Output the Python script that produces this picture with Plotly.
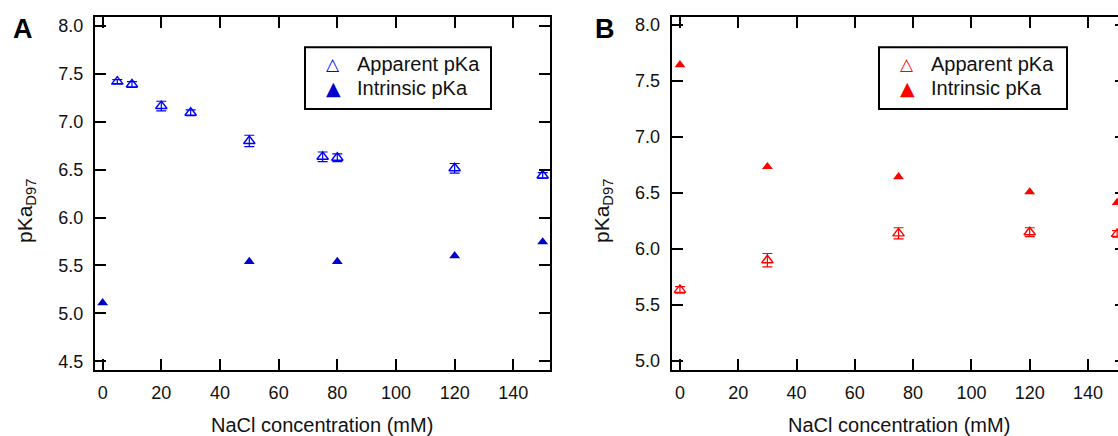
import plotly.graph_objects as go

# ---------------- data ----------------
A_conc_app = [5, 10, 20, 30, 50, 75, 80, 120, 150]
A_app = [7.42, 7.39, 7.165, 7.095, 6.80, 6.635, 6.625, 6.515, 6.44]
A_app_err = [0.02, 0.03, 0.05, 0.03, 0.06, 0.05, 0.04, 0.05, 0.03]
A_conc_int = [0, 50, 80, 120, 150]
A_int = [5.11, 5.54, 5.54, 5.60, 5.745]

B_conc = [0, 30, 75, 120, 150]
B_app = [5.635, 5.90, 6.14, 6.15, 6.135]
B_app_err = [0.03, 0.06, 0.05, 0.04, 0.03]
B_int = [7.645, 6.735, 6.645, 6.51, 6.415]

x_ticks = [0, 20, 40, 60, 80, 100, 120, 140]
legend_names = ["Apparent pKa", "Intrinsic pKa"]
x_title = "NaCl concentration (mM)"
y_title = "pKa<sub>D97</sub>"

# ---------------- style ----------------
W, H = 1118, 436
FONT = "Liberation Sans, Arial, sans-serif"
BLUE_O = "#0000ff"
BLUE_F = "#0000cc"
RED = "#ff0000"

fig = go.Figure()

def app_trace(x, y, err, color, xa, ya):
    return go.Scatter(
        x=x, y=y, mode="markers", name=legend_names[0], xaxis=xa, yaxis=ya, showlegend=False,
        marker=dict(symbol="triangle-up-open", size=10, color=color, line=dict(width=1.4, color=color)),
        error_y=dict(type="data", array=err, visible=True, color=color, thickness=1.2, width=5),
        cliponaxis=False,
    )

def int_trace(x, y, color, xa, ya):
    return go.Scatter(
        x=x, y=y, mode="markers", name=legend_names[1], xaxis=xa, yaxis=ya, showlegend=False,
        marker=dict(symbol="triangle-up", size=9.5, color=color, line=dict(width=0)),
        cliponaxis=False,
    )

fig.add_trace(app_trace(A_conc_app, A_app, A_app_err, BLUE_O, "x", "y"))
fig.add_trace(int_trace(A_conc_int, A_int, BLUE_F, "x", "y"))
fig.add_trace(app_trace(B_conc, B_app, B_app_err, RED, "x2", "y2"))
fig.add_trace(int_trace(B_conc, B_int, RED, "x2", "y2"))
# invisible trace so the right-hand tick axis of panel B is drawn
fig.add_trace(go.Scatter(x=[None], y=[None], xaxis="x2", yaxis="y3", showlegend=False,
                         hoverinfo="skip", mode="markers"))

def px_x(p):
    return p / W

def px_y(p):
    return 1 - p / H

axis_common = dict(
    showline=True, linewidth=2, linecolor="black",
    ticks="inside", ticklen=11, tickwidth=2, tickcolor="black",
    showgrid=False, zeroline=False,
    tickfont=dict(family=FONT, size=18, color="#111111"),
    automargin=False,
)

ydom = [px_y(370), px_y(16.7)]

fig.update_layout(
    width=W, height=H, autosize=False,
    margin=dict(l=0, r=0, t=0, b=0),
    paper_bgcolor="white", plot_bgcolor="white",
    font=dict(family=FONT, color="#111111"),
    showlegend=False,
    xaxis=dict(domain=[px_x(95), px_x(550)], range=[-2.6, 152.5], tickvals=x_ticks,
               mirror="ticks", anchor="y", ticklabelstandoff=5, **axis_common),
    yaxis=dict(domain=ydom, range=[4.408, 8.098], dtick=0.5, tick0=0, tickformat=".1f",
               mirror="ticks", anchor="x", ticklabelstandoff=6, **axis_common),
    xaxis2=dict(domain=[px_x(671.7), 1.0], range=[-2.83, 150.3], tickvals=x_ticks,
                mirror="ticks", anchor="y2", ticklabelstandoff=5, **axis_common),
    yaxis2=dict(domain=ydom, range=[4.92, 8.074], dtick=0.5, tick0=0, tickformat=".1f",
                mirror=False, anchor="x2", ticklabelstandoff=6, **axis_common),
    yaxis3=dict(overlaying="y2", anchor="x2", side="right", range=[4.92, 8.074], dtick=0.5, tick0=0,
                showline=False, ticks="inside", ticklen=3, tickwidth=2, tickcolor="black",
                showticklabels=False, showgrid=False, zeroline=False),
)

shapes = []
ann = []

# legends (box + symbols + labels), one per panel
for (bx0, bx1, c_open, c_fill) in [(305, 491, BLUE_O, BLUE_F), (879, 1067, RED, RED)]:
    shapes.append(dict(type="rect", xref="paper", yref="paper",
                       x0=px_x(bx0), x1=px_x(bx1), y0=px_y(47.3), y1=px_y(109),
                       line=dict(color="black", width=2), fillcolor="white", layer="above"))
    for row_y, name, sym, col, sz in [(64, legend_names[0], "\u25B3", c_open, 17),
                                      (88, legend_names[1], "\u25B2", c_fill, 19)]:
        ann.append(dict(x=px_x(bx0 + 28), y=px_y(row_y), xref="paper", yref="paper", text=sym,
                        showarrow=False, xanchor="center", yanchor="middle",
                        font=dict(family="DejaVu Sans", size=sz, color=col)))
        ann.append(dict(x=px_x(bx0 + 50), y=px_y(row_y), xref="paper", yref="paper", text=name,
                        showarrow=False, xanchor="left", yanchor="middle",
                        font=dict(family=FONT, size=20, color="#111111")))

for cx, label in [(23, "A"), (605, "B")]:
    ann.append(dict(x=px_x(cx), y=px_y(29), xref="paper", yref="paper", text="<b>%s</b>" % label,
                    showarrow=False, xanchor="center", yanchor="middle",
                    font=dict(family=FONT, size=27, color="black")))
for cx in [322.5, 899]:
    ann.append(dict(x=px_x(cx), y=px_y(425), xref="paper", yref="paper", text=x_title,
                    showarrow=False, xanchor="center", yanchor="middle",
                    font=dict(family=FONT, size=20, color="#111111")))
for cx in [26, 603]:
    ann.append(dict(x=px_x(cx), y=px_y(211), xref="paper", yref="paper", text=y_title,
                    showarrow=False, xanchor="center", yanchor="middle", textangle=-90,
                    font=dict(family=FONT, size=21, color="#111111")))

fig.update_layout(annotations=ann, shapes=shapes)

fig.write_html("out.html")
